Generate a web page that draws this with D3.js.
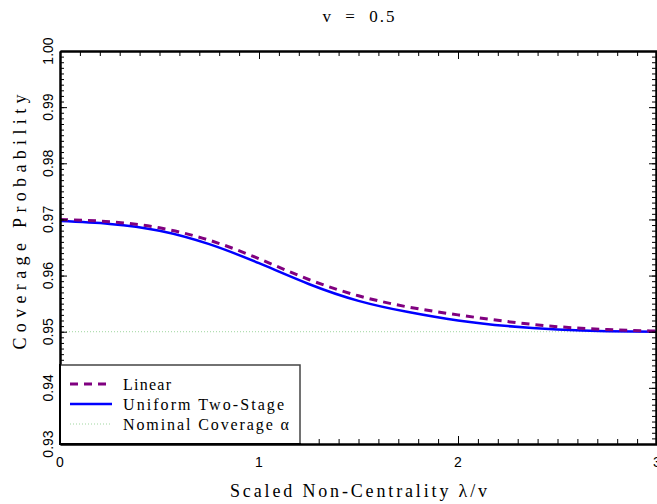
<!DOCTYPE html>
<html>
<head>
<meta charset="utf-8">
<script src="https://cdn.jsdelivr.net/npm/d3@7"></script>
<style>
body{margin:0;background:#fff}
svg{display:block}
</style>
</head>
<body>
<div id="chart"></div>
<script>
// valeurs (v = 0.5)
const lambdaV = [0, 0.25, 0.5, 0.75, 1, 1.25, 1.5, 1.75, 2, 2.25, 2.5, 2.75, 3]
const linear = [0.9700, 0.9696, 0.9685, 0.9663, 0.9630, 0.9593, 0.9564, 0.9544, 0.9530, 0.9518, 0.9509, 0.9504, 0.9501]
const uniformTwoStage = [0.9697, 0.9692, 0.9680, 0.9656, 0.9622, 0.9585, 0.9555, 0.9535, 0.9520, 0.9510, 0.9504, 0.9501, 0.9500]
const nominal = 0.95
const xMajorTicks = [0, 1, 2, 3]
const yMajorTicks = [0.93, 0.94, 0.95, 0.96, 0.97, 0.98, 0.99, 1.00]
const legendLabels = ["Linear", "Uniform Two-Stage", "Nominal Coverage \u03b1"]

const width = 657, height = 504
const margin = {left: 60, top: 51, right: 0, bottom: 60}

let svg = d3.select("#chart").append("svg")
	.attr("width", width)
	.attr("height", height)

let x = d3.scaleLinear().domain([0, 3]).range([margin.left, width - margin.right])
let y = d3.scaleLinear().domain([0.93, 1.0]).range([height - margin.bottom, margin.top])

const serif = "'Liberation Serif', 'DejaVu Serif', serif"
const sans = "'Liberation Sans', Arial, sans-serif"

// ligne nominale
svg.append("line")
	.attr("x1", x(0) + 6).attr("x2", x(3))
	.attr("y1", y(nominal)).attr("y2", y(nominal))
	.attr("stroke", "#9fd69f")
	.attr("stroke-width", 1)
	.attr("stroke-dasharray", "1,2")

let line = d3.line()
	.x((d, i) => x(lambdaV[i]))
	.y(d => y(d))
	.curve(d3.curveNatural)

svg.append("path")
	.datum(uniformTwoStage)
	.attr("d", line)
	.attr("fill", "none")
	.attr("stroke", "#0000ff")
	.attr("stroke-width", 2.5)

svg.append("path")
	.datum(linear)
	.attr("d", line)
	.attr("fill", "none")
	.attr("stroke", "#800080")
	.attr("stroke-width", 3)
	.attr("stroke-dasharray", "8,6")

// axes : graduations vers l'interieur
function styleAxis(g) {
	g.selectAll("path").attr("stroke", "#000").attr("stroke-width", 2)
	g.selectAll("line").attr("stroke", "#000").attr("stroke-width", 1)
}
let xMinor = d3.range(0, 31).map(d => d / 10)
let yMinor = d3.range(930, 1001).map(d => d / 1000)

const bottomY = y(0.93), topY = y(1.0), leftX = x(0), rightX = x(3)

svg.append("g").attr("transform", `translate(0,${bottomY})`)
	.call(d3.axisBottom(x).tickValues(xMinor).tickSize(-5).tickSizeOuter(0).tickFormat(""))
	.call(styleAxis)
svg.append("g").attr("transform", `translate(0,${bottomY})`)
	.call(d3.axisBottom(x).tickValues(xMajorTicks).tickSize(-8).tickSizeOuter(0).tickFormat(""))
	.call(styleAxis)
svg.append("g").attr("transform", `translate(0,${topY})`)
	.call(d3.axisTop(x).tickValues(xMinor).tickSize(-5).tickSizeOuter(0).tickFormat(""))
	.call(styleAxis)
svg.append("g").attr("transform", `translate(0,${topY})`)
	.call(d3.axisTop(x).tickValues(xMajorTicks).tickSize(-8).tickSizeOuter(0).tickFormat(""))
	.call(styleAxis)
svg.append("g").attr("transform", `translate(${leftX},0)`)
	.call(d3.axisLeft(y).tickValues(yMinor).tickSize(-4).tickSizeOuter(0).tickFormat(""))
	.call(styleAxis)
svg.append("g").attr("transform", `translate(${leftX},0)`)
	.call(d3.axisLeft(y).tickValues(yMajorTicks).tickSize(-7).tickSizeOuter(0).tickFormat(""))
	.call(styleAxis)
svg.append("g").attr("transform", `translate(${rightX - 1},0)`)
	.call(d3.axisRight(y).tickValues(yMinor).tickSize(-4).tickSizeOuter(0).tickFormat(""))
	.call(styleAxis)
svg.append("g").attr("transform", `translate(${rightX - 1},0)`)
	.call(d3.axisRight(y).tickValues(yMajorTicks).tickSize(-7).tickSizeOuter(0).tickFormat(""))
	.call(styleAxis)

// libelles des graduations
svg.selectAll(".xlab").data(xMajorTicks).enter().append("text")
	.attr("x", d => x(d))
	.attr("y", bottomY + 23)
	.attr("text-anchor", "middle")
	.style("font-family", sans)
	.style("font-size", "14px")
	.text(d => d)

svg.selectAll(".ylab").data(yMajorTicks).enter().append("text")
	.attr("transform", d => `translate(${leftX - 7},${y(d)}) rotate(-90)`)
	.attr("text-anchor", "middle")
	.style("font-family", sans)
	.style("font-size", "14px")
	.text(d => d3.format(".2f")(d))

// legende
let lg = svg.append("g")
lg.append("rect")
	.attr("x", leftX).attr("y", 365)
	.attr("width", 240).attr("height", bottomY - 365)
	.attr("fill", "#fff")
	.attr("stroke", "#444")
	.attr("stroke-width", 1.5)
// on redessine l'axe par-dessus
lg.append("line").attr("x1", leftX).attr("x2", leftX).attr("y1", 364).attr("y2", bottomY + 1)
	.attr("stroke", "#000").attr("stroke-width", 2)
lg.append("line").attr("x1", leftX).attr("x2", leftX + 241).attr("y1", bottomY).attr("y2", bottomY)
	.attr("stroke", "#000").attr("stroke-width", 2)

let legendStyles = [
	{stroke: "#800080", w: 3, dash: "8,6", len: 48},
	{stroke: "#0000ff", w: 2.5, dash: null, len: 161},
	{stroke: "#9fd69f", w: 1, dash: "1,2", len: 166}
]
legendLabels.forEach((lab, i) => {
	let ly = 384 + i * 20
	lg.append("line")
		.attr("x1", 70).attr("x2", 112)
		.attr("y1", ly).attr("y2", ly)
		.attr("stroke", legendStyles[i].stroke)
		.attr("stroke-width", legendStyles[i].w)
		.attr("stroke-dasharray", legendStyles[i].dash)
	lg.append("text")
		.attr("x", 123)
		.attr("y", ly + 6)
		.attr("textLength", legendStyles[i].len)
		.attr("lengthAdjust", "spacing")
		.style("font-family", serif)
		.style("font-size", "16px")
		.text(lab)
})

// titres
svg.append("text")
	.attr("x", (leftX + rightX) / 2)
	.attr("y", 22)
	.attr("text-anchor", "middle")
	.attr("textLength", 72)
	.attr("lengthAdjust", "spacing")
	.style("font-family", serif)
	.style("font-size", "17px")
	.style("white-space", "pre")
	.text("v  =  0.5")

svg.append("text")
	.attr("x", (leftX + rightX) / 2)
	.attr("y", 497)
	.attr("text-anchor", "middle")
	.attr("textLength", 257)
	.attr("lengthAdjust", "spacing")
	.style("font-family", serif)
	.style("font-size", "18px")
	.text("Scaled Non-Centrality \u03bb/v")

svg.append("text")
	.attr("transform", `translate(26,222) rotate(-90)`)
	.attr("text-anchor", "middle")
	.attr("textLength", 255)
	.attr("lengthAdjust", "spacing")
	.style("font-family", serif)
	.style("font-size", "18px")
	.text("Coverage Probability")
</script>
</body>
</html>
